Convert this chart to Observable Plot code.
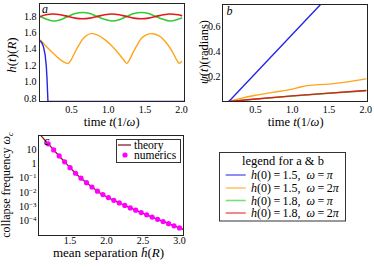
<!DOCTYPE html>
<html><head><meta charset="utf-8">
<script src="https://cdn.jsdelivr.net/npm/d3@7"></script>
<script src="https://cdn.jsdelivr.net/npm/@observablehq/plot@0.6"></script>
<style>
body{margin:0;background:#fff;}
#root{position:relative;width:374px;height:267px;overflow:hidden;font-family:'Liberation Serif',serif;}
#root > svg{position:absolute;}
</style></head><body><div id="root"></div>
<script>
const FONT = "'Liberation Serif', serif";
// ---------- Panel a : h(t) ----------
const aBlueT   = [0.077,0.1,0.12,0.14,0.155,0.165,0.172,0.178,2.04];
const aBlueH   = [1.5,1.47,1.42,1.33,1.2,1.05,0.9,0.765,0.765];
const aOrangeT = [0.077,0.15,0.25,0.35,0.42,0.455,0.5,0.55,0.6,0.65,0.7,0.764,0.85,0.95,1.05,1.15,1.22,1.254,1.3,1.35,1.4,1.45,1.52,1.604,1.7,1.8,1.88,1.94,1.968,2.0];
const aOrangeH = [1.51,1.44,1.35,1.27,1.235,1.228,1.28,1.37,1.45,1.52,1.565,1.59,1.575,1.52,1.44,1.34,1.26,1.228,1.29,1.38,1.46,1.53,1.575,1.59,1.56,1.47,1.36,1.26,1.228,1.25];
const aGreenT  = [0.077,0.15,0.25,0.35,0.45,0.55,0.65,0.75,0.85,0.95,1.05,1.15,1.25,1.35,1.45,1.55,1.65,1.75,1.84,1.95,2.0];
const aGreenH  = [1.80,1.77,1.745,1.76,1.80,1.835,1.848,1.835,1.80,1.765,1.745,1.76,1.80,1.835,1.848,1.835,1.80,1.765,1.745,1.765,1.78];
const aRedT    = [0.077,0.15,0.25,0.35,0.45,0.55,0.65,0.75,0.85,0.95,1.05,1.15,1.25,1.35,1.45,1.55,1.65,1.75,1.84,1.95,2.0];
const aRedH    = [1.80,1.82,1.83,1.82,1.80,1.78,1.772,1.78,1.80,1.82,1.83,1.82,1.80,1.78,1.772,1.78,1.80,1.82,1.83,1.82,1.81];
const aXTicks = [0.5,1.0,1.5,2.0];
const aYTicks = [0.8,1.0,1.2,1.4,1.6,1.8];
// ---------- Panel b : psi(t) ----------
const bBlueT   = [0.136,1.4];
const bBlueP   = [0.0,0.79];
const bOrangeT = [0.136,0.3,0.5,0.75,1.0,1.1,1.2,1.5,1.75,2.0];
const bOrangeP = [0.0,0.025,0.05,0.075,0.1,0.115,0.128,0.14,0.158,0.182];
const bGreenT  = [0.136,0.5,1.0,1.5,2.0];
const bGreenP  = [0.0,0.019,0.044,0.066,0.087];
const bRedT    = [0.136,0.5,1.0,1.5,2.0];
const bRedP    = [0.0,0.02,0.045,0.067,0.088];
const bXTicks = [0.5,1.0,1.5,2.0];
const bYTicks = [0.2,0.4,0.6];
// ---------- Panel c : collapse frequency ----------
const cTheoryH = [1.07,1.1,1.15,1.2,1.3,1.4,1.5,1.6,1.7,1.8,1.9,2.0,2.1,2.2,2.3,2.4,2.5,2.6,2.7,2.8,2.9,3.0,3.05];
const cTheoryW = [141,93.3,47.9,25.1,6.76,1.91,0.537,0.166,0.0603,0.024,0.01,0.00501,0.00282,0.00162,0.000955,0.000575,0.000347,0.000214,0.000132,8.32e-5,5.25e-5,3.31e-5,2.63e-5];
const cNumH = [1.2,1.275,1.35,1.425,1.5,1.575,1.65,1.725,1.8,1.875,1.95,2.025,2.1,2.175,2.25,2.325,2.4,2.475,2.55,2.625,2.7,2.775,2.85,2.925,3.0];
const cNumW = [25.1,9.3,3.55,1.38,0.537,0.219,0.1,0.0479,0.024,0.0123,0.00708,0.00437,0.00282,0.00186,0.001245,0.000832,0.000575,0.000394,0.000272,0.000191,0.000132,9.33e-5,6.61e-5,4.68e-5,3.31e-5];
const cXTicks = [1.5,2.0,2.5,3.0];
const cYTicks = [10,1,0.1,0.01,0.001,0.0001];
// ---------- legend ----------
const seriesH = ["1.5","1.5","1.8","1.8"];
const seriesW = ["","2","","2"];
const seriesColors = ["#2525e6","#ffa41b","#33cc33","#e31a1c"];

const zip = (xs, ys) => xs.map((x,i)=>({x, y: ys[i]}));
const root = document.getElementById("root");
const style = {fontFamily: FONT, fontSize: "10px", background: "transparent", color: "black", overflow: "visible"};

function rich(svg, x, y, parts, {size=12, anchor="middle", rotate=0}={}) {
  const t = d3.select(svg).append("text")
    .attr("transform", `translate(${x},${y}) rotate(${rotate})`)
    .attr("text-anchor", anchor).attr("font-size", size)
    .style("font-family", FONT).attr("fill", "black");
  for (const p of parts) {
    const [s, st] = typeof p === "string" ? [p, ""] : p;
    const ts = t.append("tspan").text(s);
    if (st.includes("i")) ts.attr("font-style", "italic");
    if (st.includes("sub")) ts.attr("dy", size*0.25).attr("font-size", size*0.7);
  }
  return t;
}
function place(svg, left, top) { svg.style.left = left+"px"; svg.style.top = top+"px"; root.appendChild(svg); }

// Panel a
const A = Plot.plot({
  width: 187, height: 130, marginLeft: 39, marginRight: 3, marginTop: 3, marginBottom: 29,
  style,
  x: {domain: [0.063, 2.04]},
  y: {domain: [0.763, 1.958]},
  marks: [
    Plot.axisX({ticks: aXTicks, tickFormat: d=>d.toFixed(1), tickSize: 0, tickPadding: 4.5, label: null}),
    Plot.axisY({ticks: aYTicks, tickFormat: d=>d.toFixed(1), tickSize: 0, tickPadding: 3, label: null}),
    Plot.line(zip(aOrangeT, aOrangeH), {x:"x", y:"y", stroke: seriesColors[1], strokeWidth: 1.4, curve: "catmull-rom", clip: true}),
    Plot.line(zip(aGreenT, aGreenH), {x:"x", y:"y", stroke: seriesColors[2], strokeWidth: 1.6, curve: "catmull-rom", clip: true}),
    Plot.line(zip(aRedT, aRedH), {x:"x", y:"y", stroke: seriesColors[3], strokeWidth: 1.6, curve: "catmull-rom", clip: true}),
    Plot.line(zip(aBlueT, aBlueH), {x:"x", y:"y", stroke: seriesColors[0], strokeWidth: 1.4, clip: true}),
    Plot.frame({stroke: "#222"})
  ]
});
place(A, 0, 0);
rich(A, 111.7, 125.5, ["time ", ["t","i"], "(1/", ["ω","i"], ")"], {size: 12.5});
rich(A, 15.5, 55, [["h","i"], "(", ["t","i"], ")(", ["R","i"], ")"], {size: 13, rotate: -90});
rich(A, 42, 12.5, [["a","i"]], {size: 12, anchor: "start"});

// Panel b
const B = Plot.plot({
  width: 187, height: 130, marginLeft: 35, marginRight: 7, marginTop: 4, marginBottom: 29,
  style,
  x: {domain: [0.05, 2.023]},
  y: {domain: [0, 0.78]},
  marks: [
    Plot.axisX({ticks: bXTicks, tickFormat: d=>d.toFixed(1), tickSize: 0, tickPadding: 4.5, label: null}),
    Plot.axisY({ticks: bYTicks, tickFormat: d=>d.toFixed(1), tickSize: 0, tickPadding: 2, label: null}),
    Plot.line(zip(bGreenT, bGreenP), {x:"x", y:"y", stroke: seriesColors[2], strokeWidth: 1.4, clip: true}),
    Plot.line(zip(bOrangeT, bOrangeP), {x:"x", y:"y", stroke: seriesColors[1], strokeWidth: 1.4, curve: "monotone-x", clip: true}),
    Plot.line(zip(bRedT, bRedP), {x:"x", y:"y", stroke: seriesColors[3], strokeWidth: 1.4, clip: true}),
    Plot.line(zip(bBlueT, bBlueP), {x:"x", y:"y", stroke: seriesColors[0], strokeWidth: 1.4, clip: true}),
    Plot.frame({stroke: "#222"})
  ]
});
place(B, 187, 0);
rich(B, 108.7, 125.5, ["time ", ["t","i"], "(1/", ["ω","i"], ")"], {size: 12.5});
rich(B, 20.5, 52, [["ψ","i"], "(", ["t","i"], ")(radians)"], {size: 12.5, rotate: -90});
rich(B, 39.5, 15, [["b","i"]], {size: 12, anchor: "start"});

// Panel c
const C = Plot.plot({
  width: 187, height: 137, marginLeft: 38, marginRight: 4, marginTop: 5, marginBottom: 32,
  style,
  x: {domain: [1.067, 3.055]},
  y: {type: "log", domain: [9.8e-6, 95.5]},
  marks: [
    Plot.axisX({ticks: cXTicks, tickFormat: d=>d.toFixed(1), tickSize: 0, tickPadding: 1.5, label: null}),
    Plot.axisY({ticks: cYTicks, tickFormat: d => d===10 ? "10" : d===1 ? "1" : "10^" + Math.round(Math.log10(d)), tickSize: 0, tickPadding: 2, label: null}),
    Plot.line(zip(cTheoryH, cTheoryW), {x:"x", y:"y", stroke: "#8b1a3a", strokeWidth: 1.3, curve: "catmull-rom", clip: true}),
    Plot.dot(zip(cNumH, cNumW), {x:"x", y:"y", r: 2.6, fill: "#ff00ff", stroke: "none", clip: true}),
    Plot.frame({stroke: "#222"})
  ]
});
place(C, 0, 130);
d3.select(C).selectAll("text").each(function() {
  const s = this.textContent; const m = s.match(/^10\^(-?\d+)$/);
  if (m) {
    const t = d3.select(this); t.text("");
    t.append("tspan").text("10");
    t.append("tspan").text(m[1].replace("-", "−")).attr("dy", "-0.45em").attr("font-size", "7px");
  }
});
rich(C, 108.5, 127, ["mean separation ", ["h̄","i"], "(", ["R","i"], ")"], {size: 13});
rich(C, 10, 55, ["collapse frequency ", ["ω","i"], ["c","i sub"]], {size: 12, rotate: -90});
rich(C, 44, 15, [["c","i"]], {size: 12, anchor: "start"});
// legend inside c
const gc = d3.select(C).append("g");
gc.append("rect").attr("x", 116.5).attr("y", 9.5).attr("width", 64).attr("height", 23).attr("fill", "white").attr("stroke", "#333");
gc.append("line").attr("x1", 118).attr("x2", 131).attr("y1", 15).attr("y2", 15).attr("stroke", "#8b1a3a").attr("stroke-width", 1.3);
gc.append("circle").attr("cx", 125).attr("cy", 25).attr("r", 2.6).attr("fill", "#ff00ff");
rich(C, 134, 18.5, ["theory"], {size: 11.5, anchor: "start"});
rich(C, 134, 29, ["numerics"], {size: 11.5, anchor: "start"});

// legend for a & b
const L = d3.create("svg").attr("width", 184).attr("height", 137).node();
place(L, 190, 130);
const gl = d3.select(L);
gl.append("rect").attr("x", 29.5).attr("y", 22.5).attr("width", 126).attr("height", 68.5).attr("fill", "white").attr("stroke", "#333");
rich(L, 93, 34.5, ["legend for a & b"], {size: 12.5});
const rowsY = [49, 62, 74.5, 87];
seriesH.forEach((hv, i) => {
  gl.append("line").attr("x1", 35.7).attr("x2", 55.7).attr("y1", rowsY[i]-4).attr("y2", rowsY[i]-4)
    .attr("stroke", seriesColors[i]).attr("stroke-opacity", 0.65).attr("stroke-width", 1.6);
  rich(L, 61, rowsY[i], [["h","i"], "(0)\u2009=\u2009" + hv + ",\u2002", ["ω","i"], "\u2009=\u2009" + seriesW[i], ["π","i"]], {size: 12, anchor: "start"});
});
</script></body></html>
